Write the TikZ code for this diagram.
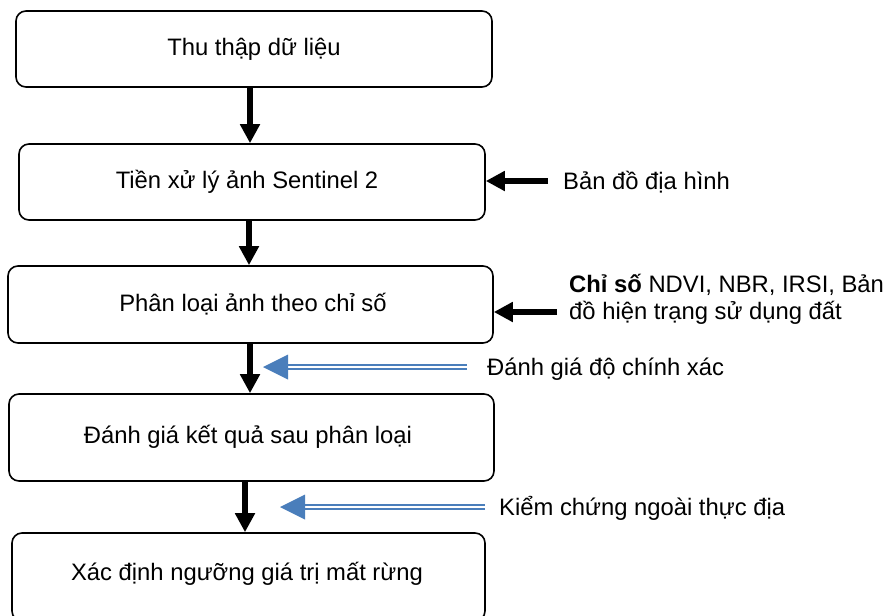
\documentclass[tikz,border=0pt]{standalone}
\usepackage{fontspec}
\setmainfont{Liberation Sans}
\usetikzlibrary{arrows.meta,calc}
\definecolor{arrblue}{RGB}{74,126,187}
\begin{document}
\begin{tikzpicture}[x=1pt,y=-1pt,
  stepbox/.style={draw=black,line width=1.6pt,rounded corners=10pt,inner sep=0pt},
  lbl/.style={font=\fontsize{23.8}{27}\selectfont,inner sep=0pt},
  blk/.style={line width=5.5pt,-{Triangle[length=19pt,width=19pt]}},
  blueshaft/.style={draw=arrblue,line width=2.2pt,double=white,double distance=2.4pt},
  bluehead/.style={fill=arrblue}]
\useasboundingbox (0,0) rectangle (890,615);
% boxes
\node[stepbox,minimum width=476pt,minimum height=76pt] (b1) at (254,49) {};
\node[stepbox,minimum width=466pt,minimum height=76pt] (b2) at (252,182) {};
\node[stepbox,minimum width=485pt,minimum height=77pt] (b3) at (250.5,304.5) {};
\node[stepbox,minimum width=485pt,minimum height=87pt] (b4) at (251.5,437.5) {};
\node[stepbox,minimum width=473pt,minimum height=88pt] (b5) at (248.5,577) {};
% box texts
\node[lbl] (t1) at (b1.center) {Thu thập dữ liệu};
\node[lbl] (t2) at (247,182) {Tiền xử lý ảnh Sentinel 2};
\node[lbl] (t3) at (253,304) {Phân loại ảnh theo chỉ số};
\node[lbl] (t4) at (248,437) {Đánh giá kết quả sau phân loại};
\node[lbl] (t5) at (247,574) {Xác định ngưỡng giá trị mất rừng};
% vertical arrows
\coordinate (v1) at (250,0);
\coordinate (v2) at (249,0);
\coordinate (v3) at (250,0);
\coordinate (v4) at (245,0);
\draw[blk] (b1.south -| v1) -- (b2.north -| v1);
\draw[blk] (b2.south -| v2) -- (b3.north -| v2);
\draw[blk] (b3.south -| v3) -- (b4.north -| v3);
\draw[blk] (b4.south -| v4) -- (b5.north -| v4);
% side labels
\node[lbl,anchor=west] (s1) at (563,182) {Bản đồ địa hình};
\node[lbl,anchor=west,align=left] (s2) at (569,299) {\textbf{Chỉ số} NDVI, NBR, IRSI, Bản\\đồ hiện trạng sử dụng đất};
\node[lbl,anchor=west] (s3) at (487,369) {Đánh giá độ chính xác};
\node[lbl,anchor=west] (s4) at (499,508) {Kiểm chứng ngoài thực địa};
% black horizontal arrows
\coordinate (h1) at (548,181);
\coordinate (h2) at (557,312);
\draw[blk] (h1) -- (h1 -| b2.east);
\draw[blk] (h2) -- (h2 -| b3.east);
% blue double arrows
\coordinate (q1) at (467,367);
\coordinate (q1b) at (287,367);
\coordinate (q1t) at (263,367);
\draw[blueshaft] (q1) -- (q1b);
\fill[bluehead] (q1t) -- ($(q1b)+(1,-12.5)$) -- ($(q1b)+(1,12.5)$) -- cycle;
\coordinate (q2) at (485,507);
\coordinate (q2b) at (304,507);
\coordinate (q2t) at (280,507);
\draw[blueshaft] (q2) -- (q2b);
\fill[bluehead] (q2t) -- ($(q2b)+(1,-12.5)$) -- ($(q2b)+(1,12.5)$) -- cycle;
\end{tikzpicture}
\end{document}
